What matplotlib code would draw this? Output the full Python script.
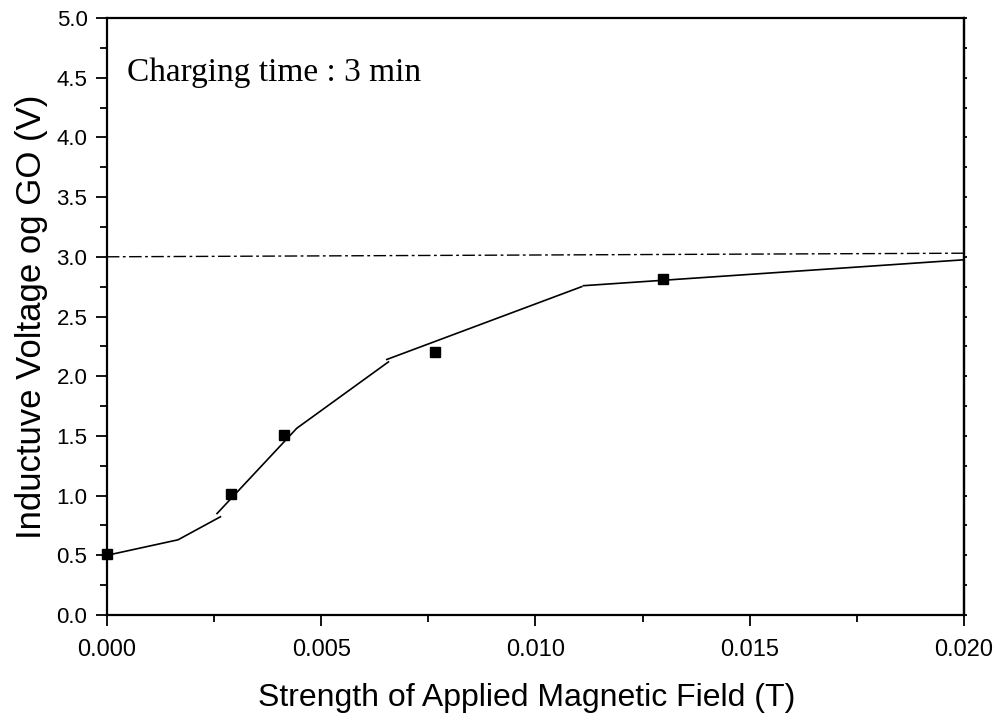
import matplotlib
matplotlib.use("Agg")
import matplotlib.pyplot as plt
from matplotlib.ticker import MultipleLocator, FormatStrFormatter

# measured data points
field = [0.0, 0.0029, 0.00413, 0.00765, 0.01298]
voltage = [0.51, 1.01, 1.51, 2.205, 2.81]

# fitted curve segments (drawn as separate pieces)
fit1_x = [0.0, 0.00166, 0.00265]
fit1_y = [0.50, 0.63, 0.823]
fit2_x = [0.00257, 0.00443, 0.00657]
fit2_y = [0.85, 1.564, 2.12]
fit3_x = [0.00653, 0.01108]
fit3_y = [2.14, 2.75]
fit4_x = [0.01112, 0.0200]
fit4_y = [2.758, 2.975]

# reference line
ref_x = [0.0, 0.0200]
ref_y = [3.00, 3.03]

fig = plt.figure(figsize=(9.99, 7.13), dpi=100)
ax = fig.add_axes([0.107, 0.1374, 0.858, 0.8374])

for xs, ys in [(fit1_x, fit1_y), (fit2_x, fit2_y), (fit3_x, fit3_y), (fit4_x, fit4_y)]:
    ax.plot(xs, ys, color="black", lw=1.2)
ax.plot(ref_x, ref_y, color="black", lw=1.0, dashes=(9, 2.5, 2, 2.5))
ax.plot(field, voltage, ls="none", marker="s", ms=7.5, color="black", clip_on=False, zorder=5)

ax.set_xlim(0, 0.02)
ax.set_ylim(0, 5.0)
ax.xaxis.set_major_locator(MultipleLocator(0.005))
ax.xaxis.set_minor_locator(MultipleLocator(0.0025))
ax.yaxis.set_major_locator(MultipleLocator(0.5))
ax.yaxis.set_minor_locator(MultipleLocator(0.25))
ax.xaxis.set_major_formatter(FormatStrFormatter("%.3f"))
ax.yaxis.set_major_formatter(FormatStrFormatter("%.1f"))

for s in ax.spines.values():
    s.set_linewidth(1.6)

ax.tick_params(axis="both", which="major", direction="out", length=8, width=1.3, pad=6)
ax.tick_params(axis="both", which="minor", direction="out", length=5, width=1.3)
ax.tick_params(axis="x", labelsize=17, pad=9)
ax.tick_params(axis="y", labelsize=16)
for lab in ax.get_xticklabels() + ax.get_yticklabels():
    lab.set_family("Liberation Sans")

# small outward ticks on the right spine
ax2 = ax.twinx()
ax2.set_ylim(0, 5.0)
ax2.yaxis.set_major_locator(MultipleLocator(0.25))
ax2.tick_params(axis="y", which="both", direction="out", length=2.5, width=1.3,
                labelright=False)
ax2.spines["right"].set_linewidth(1.6)
for s in ["left", "top", "bottom"]:
    ax2.spines[s].set_visible(False)

ax.set_xlabel("Strength of Applied Magnetic Field (T)", fontsize=23,
              family="Liberation Sans")
ax.xaxis.set_label_coords(0.4895, -0.113)
ax.set_ylabel("Inductuve Voltage og GO (V)", fontsize=25,
              family="Liberation Sans", labelpad=6)

ax.text(0.023, 0.908, "Charging time : 3 min", transform=ax.transAxes,
        fontsize=24, family="Liberation Serif", va="center", ha="left")

fig.savefig("out.png", dpi=100)
